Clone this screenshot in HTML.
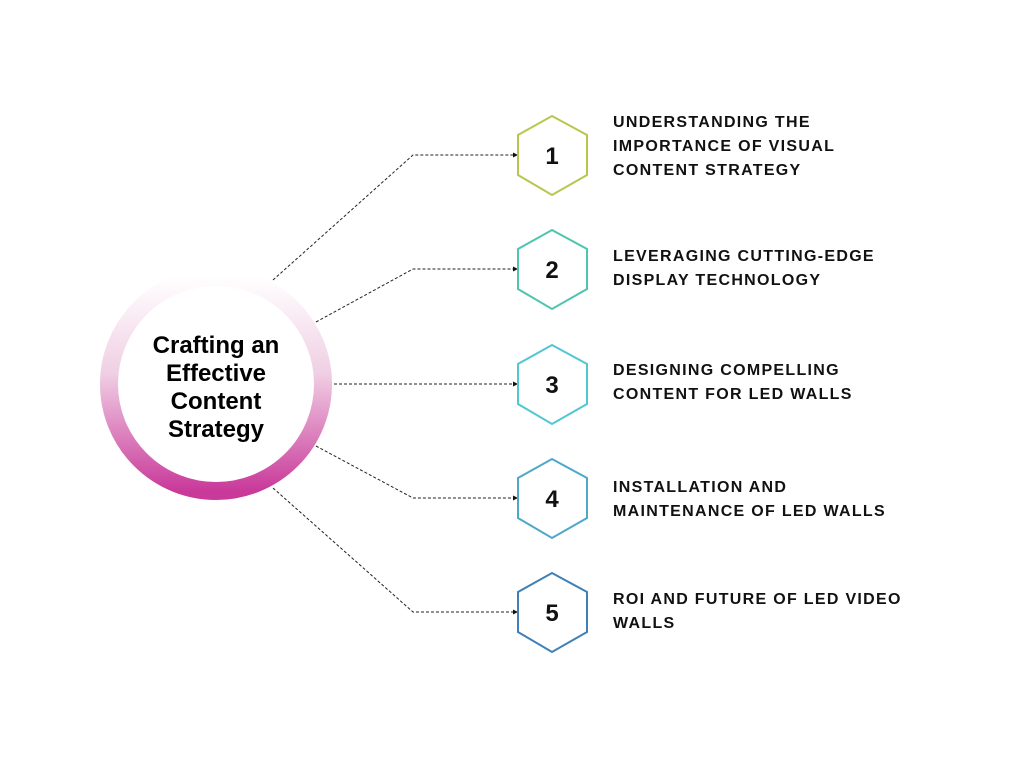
<!DOCTYPE html>
<html><head><meta charset="utf-8"><style>
html,body{margin:0;padding:0;background:#fff;}
body{width:1024px;height:768px;position:relative;overflow:hidden;font-family:"Liberation Sans",sans-serif;}
.t{position:absolute;left:613px;font-weight:bold;font-size:16px;letter-spacing:1.3px;line-height:24px;color:#111;}
</style></head><body>
<svg width="1024" height="768" style="position:absolute;left:0;top:0">
<defs>
<linearGradient id="g" x1="0" y1="0" x2="0" y2="1">
<stop offset="0" stop-color="#ffffff"/>
<stop offset="0.45" stop-color="#f0cfe4"/>
<stop offset="1" stop-color="#c9399a"/>
</linearGradient>
<marker id="a" markerWidth="5" markerHeight="5" refX="4" refY="2.5" orient="auto"><path d="M0,0 L5,2.5 L0,5z" fill="#111"/></marker>
</defs>
<circle cx="216" cy="384" r="107" fill="none" stroke="url(#g)" stroke-width="18"/>
<g fill="none" stroke="#222" stroke-width="1" stroke-dasharray="3,2">
<polyline points="273,280 413,155 517,155" marker-end="url(#a)"/>
<polyline points="316,322 413,269 517,269" marker-end="url(#a)"/>
<polyline points="334,384 517,384" marker-end="url(#a)"/>
<polyline points="316,446 413,498 517,498" marker-end="url(#a)"/>
<polyline points="273,488 413,612 517,612" marker-end="url(#a)"/>
</g>
<g fill="#fff" stroke-width="2">
<polygon points="552,116 587,135 587,175 552,195 518,175 518,135" stroke="#b9c64e"/>
<polygon points="552,230 587,249 587,289 552,309 518,289 518,249" stroke="#4fc4b0"/>
<polygon points="552,345 587,364 587,404 552,424 518,404 518,364" stroke="#52c7d2"/>
<polygon points="552,459 587,478 587,518 552,538 518,518 518,478" stroke="#4ea8c8"/>
<polygon points="552,573 587,592 587,632 552,652 518,632 518,592" stroke="#3f80b6"/>
</g>
<g font-family="Liberation Sans,sans-serif" font-weight="bold" font-size="24" text-anchor="middle" fill="#111">
<text x="552" y="164">1</text>
<text x="552" y="278">2</text>
<text x="552" y="393">3</text>
<text x="552" y="507">4</text>
<text x="552" y="621">5</text>
</g>
<g font-family="Liberation Sans,sans-serif" font-weight="bold" font-size="24" text-anchor="middle" fill="#000">
<text x="216" y="353">Crafting an</text>
<text x="216" y="381">Effective</text>
<text x="216" y="409">Content</text>
<text x="216" y="437">Strategy</text>
</g>
</svg>
<div class="t" style="top:111px">UNDERSTANDING THE<br>IMPORTANCE OF VISUAL<br>CONTENT STRATEGY</div>
<div class="t" style="top:245px">LEVERAGING CUTTING-EDGE<br>DISPLAY TECHNOLOGY</div>
<div class="t" style="top:359px">DESIGNING COMPELLING<br>CONTENT FOR LED WALLS</div>
<div class="t" style="top:476px">INSTALLATION AND<br>MAINTENANCE OF LED WALLS</div>
<div class="t" style="top:588px">ROI AND FUTURE OF LED VIDEO<br>WALLS</div>
</body></html>
